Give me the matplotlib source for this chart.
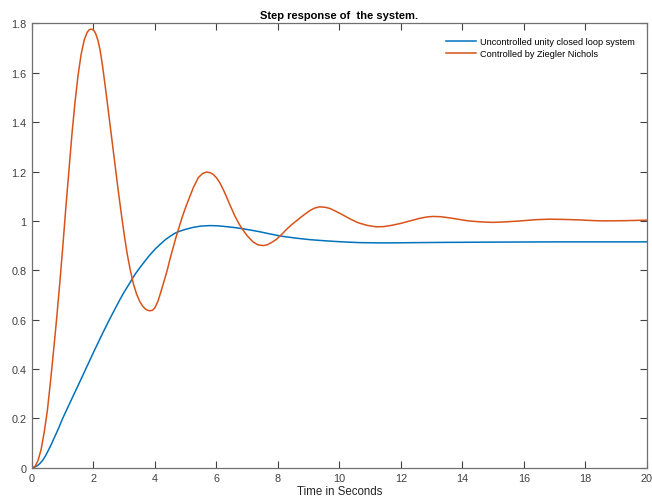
import numpy as np
import matplotlib
matplotlib.use("Agg")
import matplotlib.pyplot as plt

plt.rcParams['font.family'] = ['Liberation Sans', 'DejaVu Sans']

# uncontrolled unity closed loop
t_unc = [0, 0.1, 0.17, 0.25, 0.35, 0.45, 0.54, 0.65, 0.75, 0.85, 1.0, 1.15, 1.3,
         1.5, 1.65, 1.78, 1.9, 2.0, 2.15, 2.3, 2.52, 2.7, 2.87, 3.0, 3.15, 3.35,
         3.52, 3.65, 3.8, 4.0, 4.17, 4.35, 4.5, 4.65, 4.8, 5.0, 5.25, 5.5, 5.79,
         6.05, 6.3, 6.6, 6.87, 7.15, 7.41, 7.75, 8.12, 8.6, 9.04, 9.58, 10.1,
         10.66, 11.2, 11.74, 12.5, 13.5, 15.0, 17.0, 20.0]
y_unc = [0, 0.003, 0.008, 0.016, 0.03, 0.05, 0.072, 0.1, 0.128, 0.155, 0.2, 0.24,
         0.28, 0.333, 0.373, 0.408, 0.44, 0.467, 0.506, 0.545, 0.6, 0.643, 0.683,
         0.712, 0.742, 0.783, 0.812, 0.833, 0.857, 0.885, 0.905, 0.925, 0.938, 0.95,
         0.958, 0.966, 0.974, 0.979, 0.981, 0.98, 0.977, 0.973, 0.968, 0.962, 0.956,
         0.947, 0.938, 0.93, 0.924, 0.919, 0.915, 0.912, 0.911, 0.911, 0.912, 0.913,
         0.914, 0.915, 0.915]

# Ziegler Nichols controlled response
t_zn = [0, 0.1, 0.2, 0.3, 0.4, 0.5, 0.6, 0.7, 0.8, 0.9, 1.0, 1.1, 1.2, 1.3, 1.4,
        1.5, 1.6, 1.7, 1.8, 1.87, 1.93, 2.0, 2.07, 2.15, 2.22, 2.3, 2.4, 2.5, 2.6,
        2.7, 2.8, 2.9, 3.0, 3.1, 3.2, 3.3, 3.4, 3.5, 3.6, 3.7, 3.78, 3.84, 3.92,
        4.0, 4.1, 4.2, 4.3, 4.4, 4.5, 4.6, 4.7, 4.8, 4.9, 5.0, 5.14, 5.25, 5.41,
        5.55, 5.68, 5.8, 5.9, 6.0, 6.11, 6.25, 6.44, 6.6, 6.75, 6.87, 7.0, 7.19,
        7.35, 7.52, 7.65, 7.8, 7.95, 8.12, 8.3, 8.45, 8.6, 8.8, 9.04, 9.2, 9.36,
        9.55, 9.7, 9.9, 10.1, 10.35, 10.6, 10.9, 11.2, 11.45, 11.7, 12.0, 12.3,
        12.6, 12.85, 13.04, 13.3, 13.6, 13.9, 14.2, 14.6, 14.99, 15.4, 15.9, 16.4,
        16.83, 17.3, 17.8, 18.3, 18.67, 19.3, 20.0]
y_zn = [0, 0.005, 0.03, 0.075, 0.145, 0.23, 0.345, 0.47, 0.6, 0.74, 0.89, 1.05,
        1.2, 1.35, 1.48, 1.59, 1.675, 1.733, 1.765, 1.775, 1.777, 1.774, 1.76,
        1.73, 1.69, 1.625, 1.53, 1.43, 1.33, 1.23, 1.13, 1.035, 0.945, 0.865, 0.8,
        0.745, 0.705, 0.675, 0.655, 0.642, 0.637, 0.636, 0.638, 0.648, 0.675, 0.715,
        0.757, 0.80, 0.85, 0.895, 0.94, 0.98, 1.02, 1.055, 1.1, 1.135, 1.175, 1.192,
        1.198, 1.195, 1.188, 1.175, 1.155, 1.12, 1.065, 1.02, 0.985, 0.962, 0.94,
        0.915, 0.903, 0.9, 0.903, 0.913, 0.925, 0.945, 0.968, 0.985, 1.0, 1.02,
        1.042, 1.052, 1.057, 1.055, 1.05, 1.038, 1.025, 1.008, 0.993, 0.982, 0.976,
        0.977, 0.982, 0.99, 1.0, 1.01, 1.016, 1.018, 1.017, 1.012, 1.006, 1.0, 0.996,
        0.994, 0.996, 1.0, 1.005, 1.007, 1.006, 1.004, 1.001, 1.0, 1.001, 1.003]

labels = ['Uncontrolled unity closed loop system', 'Controlled by Ziegler Nichols']
xticks = np.arange(0, 21, 2)
yticks = np.arange(0, 1.81, 0.2)

fig = plt.figure(figsize=(6.52, 5.02), dpi=100)
ax = fig.add_axes([0.049, 0.0663, 0.943, 0.885])

ax.plot(t_unc, y_unc, color='#0072BD', lw=1.1, label=labels[0])
ax.plot(t_zn, y_zn, color='#D95319', lw=1.1, label=labels[1])

ax.set_xlim(0, 20)
ax.set_ylim(0, 1.8)
ax.set_xticks(xticks)
ax.set_yticks(yticks)
ax.set_xticklabels(['%g' % v for v in xticks])
ax.set_yticklabels(['%g' % round(v, 1) for v in yticks])
ax.tick_params(direction='in', length=5, width=0.8, top=True, right=True,
               labelsize=7.8, colors='#404040', pad=4)
for s in ax.spines.values():
    s.set_color('#707070')
    s.set_linewidth(0.9)

ax.set_title('Step response of  the system.', fontsize=8, fontweight='bold', pad=4)
ax.set_xlabel('Time in Seconds', fontsize=8.3, color='#262626', labelpad=1)

ax.legend(loc='upper right', bbox_to_anchor=(1.0, 0.995), frameon=False,
          fontsize=6.6, handlelength=3.3, handletextpad=0.45, labelspacing=0.3,
          borderaxespad=0.85)

fig.savefig('out.png', dpi=100)
